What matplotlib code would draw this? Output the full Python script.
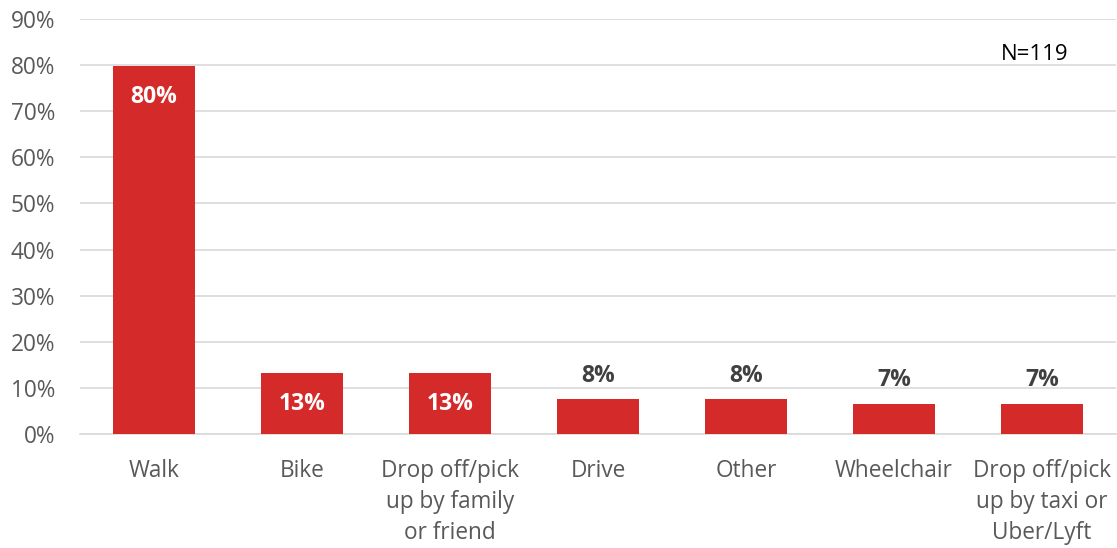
import matplotlib
matplotlib.use("Agg")
import matplotlib.pyplot as plt

categories = ["Walk", "Bike", "Drop off/pick\nup by family\nor friend", "Drive", "Other",
              "Wheelchair", "Drop off/pick\nup by taxi or\nUber/Lyft"]
values = [79.8, 13.3, 13.3, 7.5, 7.5, 6.6, 6.6]
labels = ["80%", "13%", "13%", "8%", "8%", "7%", "7%"]
inside = [True, True, True, False, False, False, False]
yticks = [0, 10, 20, 30, 40, 50, 60, 70, 80, 90]

plt.rcParams['font.family'] = ['Open Sans', 'DejaVu Sans']

fig = plt.figure(figsize=(11.17, 5.48), dpi=100)
ax = fig.add_axes([80/1117, 1-434/548, 1036/1117, (434-19)/548])

red = "#D42B2A"
x = list(range(len(categories)))
ax.bar(x, values, width=0.555, color=red, zorder=3)
ax.set_xlim(-0.5, len(categories) - 0.5)
ax.set_ylim(0, 90)
ax.set_yticks(yticks)
ax.set_yticklabels([f"{t}%" for t in yticks], color="#595959", fontsize=16.3)
ax.set_xticks(x)
ax.set_xticklabels(categories, color="#595959", fontsize=16.3, linespacing=1.38, va="top")
ax.tick_params(axis="both", length=0)
ax.tick_params(axis="x", pad=18)
ax.tick_params(axis="y", pad=18)
ax.grid(axis="y", color="#D9D9D9", linewidth=1.2, zorder=0)
for s in ["top", "right", "left"]:
    ax.spines[s].set_visible(False)
ax.spines["bottom"].set_color("#D9D9D9")
ax.spines["bottom"].set_linewidth(1.2)

for xi, v, lab, ins in zip(x, values, labels, inside):
    if ins:
        ax.text(xi, v - 6.7, lab, ha="center", va="center", color="white",
                fontsize=16.5, fontweight="bold", zorder=4)
    else:
        ax.text(xi, v + 5.1, lab, ha="center", va="center", color="#404040",
                fontsize=16.5, fontweight="bold", zorder=4)

ax.text(5.95, 82.3, "N=119", ha="center", va="center", color="black", fontsize=16)

fig.savefig("out.png", dpi=100)
